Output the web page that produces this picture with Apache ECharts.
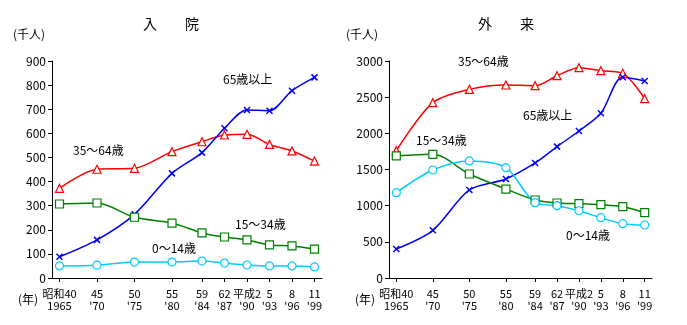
<!DOCTYPE html>
<html>
<head>
<meta charset="utf-8">
<script src="https://cdn.jsdelivr.net/npm/echarts@6/dist/echarts.min.js"></script>
<style>
  html, body { margin: 0; padding: 0; background: #fff; }
  #chart { width: 687px; height: 325px; }
</style>
</head>
<body>
<div id="chart"></div>
<script>
// Survey years and their two-line tick labels
const years = [1965, 1970, 1975, 1980, 1984, 1987, 1990, 1993, 1996, 1999];
const eraLabels = ['昭和40', '45', '50', '55', '59', '62', '平成2', '5', '8', '11'];
const yearLabels = ['1965', "'70", "'75", "'80", "'84", "'87", "'90", "'93", "'96", "'99"];

// 入院 (千人)
const inpatient0to14 = [50, 53, 66, 66, 70, 62, 54, 50, 50, 46];
const inpatient15to34 = [307, 311, 252, 228, 187, 170, 158, 137, 133, 120];
const inpatient35to64 = [372, 451, 455, 524, 565, 593, 596, 554, 527, 485];
const inpatient65plus = [88, 158, 264, 434, 520, 621, 697, 694, 777, 832];

// 外来 (千人)
const outpatient0to14 = [1180, 1493, 1618, 1525, 1041, 1000, 930, 834, 751, 733];
const outpatient15to34 = [1687, 1710, 1438, 1230, 1078, 1037, 1028, 1014, 986, 903];
const outpatient35to64 = [1760, 2424, 2608, 2668, 2659, 2797, 2908, 2866, 2830, 2479];
const outpatient65plus = [401, 659, 1217, 1369, 1590, 1816, 2032, 2277, 2775, 2724];

const FONT = '"Noto Sans CJK JP", sans-serif';
const crossPath = 'path://M0,0L10,10M10,0L0,10';

function pairs(vals) { return years.map((y, i) => [y, vals[i]]); }

function xAxisFor(gridIndex) {
  return {
    type: 'value', gridIndex, min: 1964, max: 2000,
    axisLine: { lineStyle: { color: '#000', width: 1 } },
    axisTick: { show: true, length: 4, customValues: years, lineStyle: { color: '#000' } },
    axisLabel: {
      customValues: years, color: '#000', fontFamily: FONT, fontSize: 11,
      lineHeight: 12, margin: 10,
      formatter: v => { const i = years.indexOf(v); return i < 0 ? '' : eraLabels[i] + '\n' + yearLabels[i]; }
    },
    splitLine: { show: false }
  };
}

function yAxisFor(gridIndex, max, interval) {
  return {
    type: 'value', gridIndex, min: 0, max, interval,
    axisLine: { show: true, lineStyle: { color: '#000', width: 1 } },
    axisTick: { show: true, length: 4, inside: false, lineStyle: { color: '#000' } },
    axisLabel: { color: '#000', fontFamily: FONT, fontSize: 12, margin: 6, formatter: v => String(v) },
    splitLine: { show: false }
  };
}

function line(idx, vals, color, symbol, isCross) {
  return {
    type: 'line', xAxisIndex: idx, yAxisIndex: idx, data: pairs(vals),
    smooth: 0.3, symbol, symbolSize: isCross ? 6 : 8,
    lineStyle: { color, width: 1.5 },
    itemStyle: isCross
      ? { color: 'none', borderColor: color, borderWidth: 1.5 }
      : { color: '#fff', borderColor: color, borderWidth: 1.2 },
    z: 3
  };
}

const RED = '#ff0000', BLUE = '#0000ff', GREEN = '#008000', CYAN = '#00ccff';

function txt(x, y, text, size, align) {
  return { type: 'text', left: x, top: y, style: { text, fill: '#000', font: `${size || 12}px ${FONT}`, textAlign: align || 'left' } };
}

const chart = echarts.init(document.getElementById('chart'));
chart.setOption({
  animation: false,
  grid: [
    { left: 52, top: 61, width: 270, height: 217 },
    { left: 389, top: 61, width: 263, height: 217 }
  ],
  xAxis: [xAxisFor(0), xAxisFor(1)],
  yAxis: [yAxisFor(0, 900, 100), yAxisFor(1, 3000, 500)],
  series: [
    line(0, inpatient35to64, RED, 'triangle'),
    line(0, inpatient65plus, BLUE, crossPath, true),
    line(0, inpatient15to34, GREEN, 'rect'),
    line(0, inpatient0to14, CYAN, 'circle'),
    line(1, outpatient35to64, RED, 'triangle'),
    line(1, outpatient65plus, BLUE, crossPath, true),
    line(1, outpatient15to34, GREEN, 'rect'),
    line(1, outpatient0to14, CYAN, 'circle')
  ],
  graphic: [
    txt(143, 17, '入　　院', 14),
    txt(478, 17, '外　　来', 14),
    txt(13, 28, '(千人)', 12),
    txt(346, 28, '(千人)', 12),
    txt(18, 293, '(年)', 12),
    txt(355, 293, '(年)', 12),
    txt(223, 73, '65歳以上', 12),
    txt(73, 144, '35〜64歳', 12),
    txt(235, 218, '15〜34歳', 12),
    txt(152, 242, '0〜14歳', 12),
    txt(458, 55, '35〜64歳', 12),
    txt(523, 109, '65歳以上', 12),
    txt(416, 134, '15〜34歳', 12),
    txt(566, 229, '0〜14歳', 12)
  ]
});
</script>
</body>
</html>
